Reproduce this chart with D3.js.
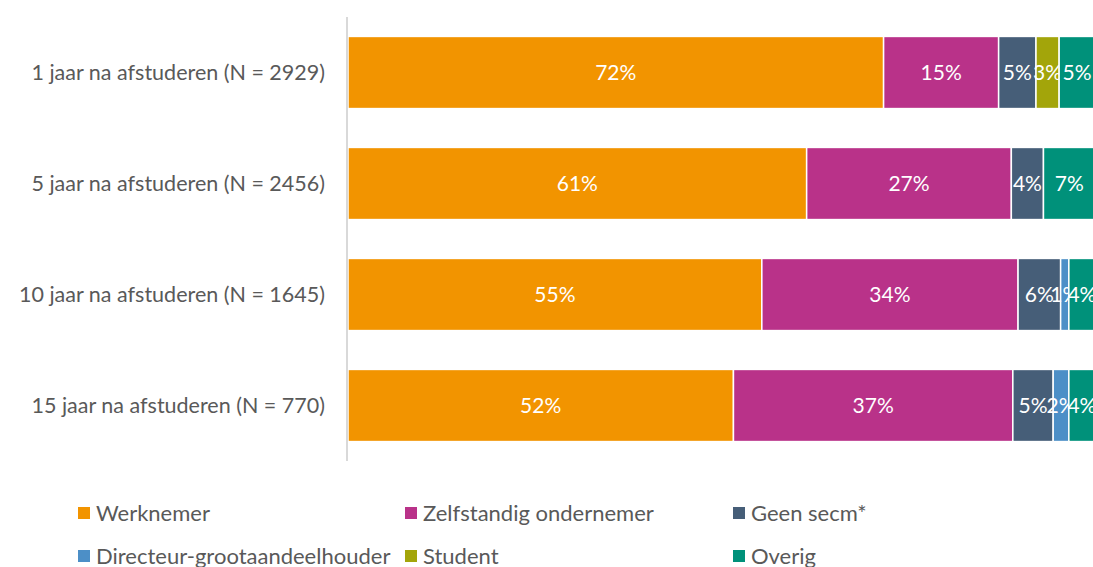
<!DOCTYPE html>
<html>
<head>
<meta charset="utf-8">
<script src="https://cdn.jsdelivr.net/npm/d3@7"></script>
<style>
  body { margin: 0; background: #fff; }
  text { font-family: Lato, "Open Sans", sans-serif; }
</style>
</head>
<body>
<svg width="1093" height="567"></svg>
<script>
// Categories (top to bottom) and the share per series, in percent.
const categories = [
  '1 jaar na afstuderen (N = 2929)',
  '5 jaar na afstuderen (N = 2456)',
  '10 jaar na afstuderen (N = 1645)',
  '15 jaar na afstuderen (N = 770)'
];
const seriesNames = ['Werknemer', 'Zelfstandig ondernemer', 'Geen secm*', 'Directeur-grootaandeelhouder', 'Student', 'Overig'];
const werknemer = [71.7, 61.4, 55.4, 51.6];
const zelfstandig = [15.4, 27.4, 34.3, 37.4];
const geenSecm = [5.0, 4.3, 5.7, 5.4];
const dga = [0, 0, 1.1, 2.1];
const student = [3.1, 0, 0, 0];
const overig = [4.8, 6.9, 3.5, 3.5];
const colours = ['#F29400', '#B93289', '#465E78', '#4C8FC7', '#A3A50A', '#00917A'];

// 1. Dimensions.
const margin = { top: 17, left: 348 };
const plotHeight = 444;
const plotWidth = 747;

// 2. Build the table and stack it.
const seriesValues = [werknemer, zelfstandig, geenSecm, dga, student, overig];
const table = categories.map((c, i) => {
  const row = { cat: c };
  seriesNames.forEach((s, j) => { row[s] = seriesValues[j][i]; });
  return row;
});
const stacked = d3.stack().keys(seriesNames)(table);

// 3. Scales.
const xScale = d3.scaleLinear().domain([0, 100]).range([margin.left, margin.left + plotWidth]);
const yScale = d3.scaleBand()
  .domain(categories)
  .range([margin.top, margin.top + plotHeight])
  .paddingInner(0.35)
  .paddingOuter(0.175);
const colScale = d3.scaleOrdinal().domain(seriesNames).range(colours);

const svg = d3.select('svg');

// 4. Bars.
const groups = svg.selectAll('g.series')
  .data(stacked)
  .enter()
  .append('g')
  .attr('class', 'series')
  .attr('fill', d => colScale(d.key));

groups.selectAll('rect')
  .data(d => d.filter(p => p[1] - p[0] > 0))
  .enter()
  .append('rect')
  .attr('x', d => xScale(d[0]))
  .attr('y', d => yScale(d.data.cat))
  .attr('width', d => xScale(d[1]) - xScale(d[0]))
  .attr('height', yScale.bandwidth())
  .attr('stroke', '#fff')
  .attr('stroke-width', 1.5);

// Value labels.
groups.selectAll('text')
  .data(d => d.filter(p => p[1] - p[0] > 0))
  .enter()
  .append('text')
  .attr('x', d => (xScale(d[0]) + xScale(d[1])) / 2)
  .attr('y', d => yScale(d.data.cat) + yScale.bandwidth() / 2)
  .attr('dy', '0.35em')
  .attr('text-anchor', 'middle')
  .attr('fill', '#fff')
  .style('font-size', '21px')
  .text(d => Math.round(d[1] - d[0]) + '%');

// 5. Axis line and category labels.
svg.append('line')
  .attr('x1', margin.left - 1).attr('x2', margin.left - 1)
  .attr('y1', margin.top).attr('y2', margin.top + plotHeight)
  .attr('stroke', '#d9d9d9')
  .attr('stroke-width', 2);

svg.selectAll('text.cat')
  .data(categories)
  .enter()
  .append('text')
  .attr('class', 'cat')
  .attr('x', 325)
  .attr('y', d => yScale(d) + yScale.bandwidth() / 2)
  .attr('dy', '0.35em')
  .attr('text-anchor', 'end')
  .attr('fill', '#595959')
  .style('font-size', '21.5px')
  .text(d => d);

// 6. Legend (3 columns, 2 rows).
const legendX = [78, 405, 733];
const legendY = [513, 556];
const legend = svg.selectAll('g.legend')
  .data(seriesNames)
  .enter()
  .append('g')
  .attr('class', 'legend')
  .attr('transform', (d, i) => `translate(${legendX[i % 3]},${legendY[Math.floor(i / 3)]})`);

legend.append('rect')
  .attr('x', 0).attr('y', -6)
  .attr('width', 12).attr('height', 12)
  .attr('fill', d => colScale(d));

legend.append('text')
  .attr('x', 18)
  .attr('dy', '0.35em')
  .attr('fill', '#595959')
  .style('font-size', '22px')
  .text(d => d);
</script>
</body>
</html>
